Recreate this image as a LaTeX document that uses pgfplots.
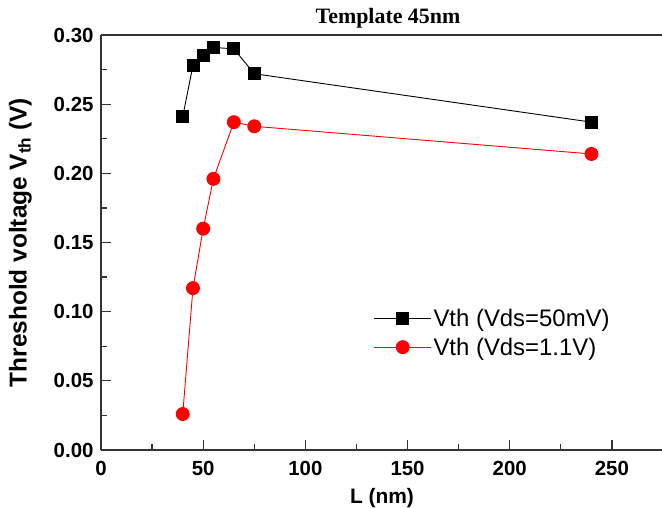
\documentclass[border=0pt]{standalone}
\usepackage{pgfplots}
\pgfplotsset{compat=1.18}
\usepackage{fontspec}
\setmainfont{Liberation Sans}
\newfontfamily\serifbf{Liberation Serif}
\begin{document}
\begin{tikzpicture}
\begin{axis}[
  name=ax,
  scale only axis,
  width=562bp, height=415bp,
  xmin=0, xmax=275, ymin=0, ymax=0.30,
  axis x line*=box, axis y line*=left,
  xtick={0,50,100,150,200,250},
  minor xtick={25,75,125,175,225},
  ytick={0,0.05,0.10,0.15,0.20,0.25,0.30},
  minor ytick={0.025,0.075,0.125,0.175,0.225,0.275},
  xtick pos=bottom, ytick pos=left,
  tick align=inside,
  major tick length=10bp, minor tick length=6bp,
  axis line style={line width=1.3bp, color=black!80},
  every tick/.style={line width=1.2bp, color=black!80},
  /pgf/number format/assume math mode=true,
  yticklabel style={xshift=-4bp, /pgf/number format/.cd, fixed, fixed zerofill, precision=2},
  xticklabel style={yshift=-8bp},
  ticklabel style={font=\fontsize{20.5}{22}\selectfont\bfseries},
  title={\serifbf\bfseries\fontsize{22}{24}\selectfont Template 45nm},
  title style={yshift=-3bp, xshift=6bp},
  xlabel={\fontsize{21}{23}\selectfont\bfseries L (nm)},
  ylabel={\fontsize{24.5}{26}\selectfont\bfseries Threshold voltage V$_{\mathbf{th}}$ (V)},
  xlabel style={yshift=-6bp},
  ylabel style={yshift=15bp},
  legend cell align=left,
  legend style={at={(0.48,0.35)}, anchor=north west, draw=none, fill=none,
    font=\fontsize{24}{28}\selectfont, row sep=6bp},
  legend image code/.code={\draw[mark repeat=2,mark phase=2] plot coordinates {(0cm,0cm) (1cm,0cm) (2cm,0cm)};},
]
\addplot[black, line width=0.9bp, mark=square*, mark size=6bp, mark options={solid, fill=black}]
  coordinates {(40,0.241) (45,0.278) (50,0.285) (55,0.291) (65,0.290) (75,0.272) (240,0.237)};
\addlegendentry{Vth (Vds=50mV)}
\addplot[red, line width=0.9bp, mark=*, mark size=6.5bp, mark options={solid, fill=red}]
  coordinates {(40,0.026) (45,0.117) (50,0.160) (55,0.196) (65,0.237) (75,0.234) (240,0.214)};
\addlegendentry{Vth (Vds=1.1V)}
\end{axis}
\pgfresetboundingbox
\path ([xshift=-101bp,yshift=-58bp]ax.south west) rectangle ([xshift=-1bp,yshift=35bp]ax.north east);
\end{tikzpicture}
\end{document}
